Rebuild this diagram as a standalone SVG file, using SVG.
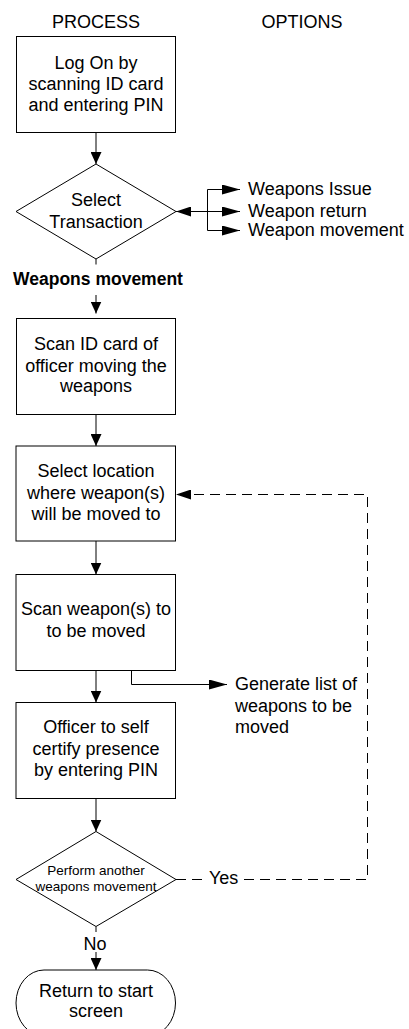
<svg xmlns="http://www.w3.org/2000/svg" width="409" height="1029" viewBox="0 0 409 1029">
  <style>
    .shape { fill: #ffffff; stroke: #000000; stroke-width: 1; }
    .line { fill: none; stroke: #000000; stroke-width: 1; }
    .dash { fill: none; stroke: #000000; stroke-width: 1; stroke-dasharray: 10 6; }
    text { font-family: "Liberation Sans", Arial, sans-serif; font-size: 18px; fill: #000000; }
    .c { text-anchor: middle; }
    .small { font-size: 13.5px; }
    .bold { font-weight: bold; font-size: 17.5px; }
  </style>
  <defs>
    <marker id="arrow" viewBox="0 0 12 11" markerWidth="12" markerHeight="11" refX="12" refY="5.5" orient="auto-start-reverse" markerUnits="userSpaceOnUse">
      <path d="M0,0 L12,5.5 L0,11 Z" fill="#000000"/>
    </marker>
    <marker id="arrowLong" viewBox="0 0 18 10" markerWidth="18" markerHeight="10" refX="18" refY="5" orient="auto-start-reverse" markerUnits="userSpaceOnUse">
      <path d="M0,0 L18,5 L0,10 Z" fill="#000000"/>
    </marker>
    <marker id="arrowMid" viewBox="0 0 15 10" markerWidth="15" markerHeight="10" refX="15" refY="5" orient="auto-start-reverse" markerUnits="userSpaceOnUse">
      <path d="M0,0 L15,5 L0,10 Z" fill="#000000"/>
    </marker>
  </defs>

  <rect width="409" height="1029" fill="#ffffff"/>

  <!-- column headings -->
  <g id="headings">
    <text class="c" x="96" y="28">PROCESS</text>
    <text class="c" x="302" y="28">OPTIONS</text>
  </g>

  <!-- connectors -->
  <g id="connectors">
    <path class="line" d="M96,132.5 V164" marker-end="url(#arrow)"/>
    <!-- transaction options bus -->
    <path class="line" d="M240,211.5 H176" marker-end="url(#arrowMid)"/>
    <path class="line" d="M207.5,211.5 H240" marker-end="url(#arrowLong)"/>
    <path class="line" d="M207.5,211.5 V189.5 H240" marker-end="url(#arrowLong)"/>
    <path class="line" d="M207.5,211.5 V230.5 H240" marker-end="url(#arrowLong)"/>
    <path class="line" d="M96,259 V264.5"/>
    <path class="line" d="M96,295 V313.5" marker-end="url(#arrow)"/>
    <path class="line" d="M96,414.5 V446" marker-end="url(#arrow)"/>
    <path class="line" d="M96,541 V574.5" marker-end="url(#arrow)"/>
    <path class="line" d="M96,670.5 V702.5" marker-end="url(#arrow)"/>
    <path class="line" d="M131.5,670.5 V684.5 H227" marker-end="url(#arrowLong)"/>
    <path class="line" d="M96,798.5 V831.5" marker-end="url(#arrow)"/>
    <!-- loop back on "Yes" -->
    <path class="dash" d="M176,879.5 H202"/>
    <path class="dash" d="M244,879.5 H367.5 V494.5 H176" marker-end="url(#arrowMid)"/>
    <path class="line" d="M96,926.5 V932"/>
    <path class="line" d="M96,952 V970" marker-end="url(#arrow)"/>
  </g>

  <!-- connector labels -->
  <g id="labels">
    <text class="bold c" x="98" y="285">Weapons movement</text>
    <text x="209" y="884">Yes</text>
    <text class="c" x="95" y="950">No</text>
  </g>

  <g id="logon">
    <rect class="shape" x="16.5" y="36.5" width="159" height="96"/>
    <text class="c" x="96" y="69">Log On by</text>
    <text class="c" x="96" y="90">scanning ID card</text>
    <text class="c" x="96" y="111">and entering PIN</text>
  </g>

  <g id="select-transaction">
    <polygon class="shape" points="96,164 176,211.5 96,259 16,211.5"/>
    <text class="c" x="96" y="206">Select</text>
    <text class="c" x="96" y="228">Transaction</text>
  </g>

  <g id="options">
    <text x="248" y="195">Weapons Issue</text>
    <text x="248" y="217">Weapon return</text>
    <text x="248" y="236">Weapon movement</text>
  </g>

  <g id="scan-officer">
    <rect class="shape" x="16.5" y="318.5" width="159" height="96"/>
    <text class="c" x="96" y="350">Scan ID card of</text>
    <text class="c" x="96" y="371.5">officer moving the</text>
    <text class="c" x="96" y="392">weapons</text>
  </g>

  <g id="select-location">
    <rect class="shape" x="16" y="446" width="159.5" height="95"/>
    <text class="c" x="96" y="477">Select location</text>
    <text class="c" x="96" y="498.5">where weapon(s)</text>
    <text class="c" x="96" y="520">will be moved to</text>
  </g>

  <g id="scan-weapons">
    <rect class="shape" x="16" y="574.5" width="159.5" height="96"/>
    <text class="c" x="96" y="615">Scan weapon(s) to</text>
    <text class="c" x="96" y="636.5">to be moved</text>
  </g>

  <g id="generate-list">
    <text x="235" y="690">Generate list of</text>
    <text x="235" y="711.5">weapons to be</text>
    <text x="235" y="733">moved</text>
  </g>

  <g id="self-certify">
    <rect class="shape" x="16" y="702.5" width="159.5" height="96"/>
    <text class="c" x="96" y="733">Officer to self</text>
    <text class="c" x="96" y="755">certify presence</text>
    <text class="c" x="96" y="776">by entering PIN</text>
  </g>

  <g id="another-movement">
    <polygon class="shape" points="96,831.5 176,879.5 96,926.5 16,879.5"/>
    <text class="c small" x="96" y="874.5">Perform another</text>
    <text class="c small" x="96" y="890.5">weapons movement</text>
  </g>

  <g id="return-start">
    <rect class="shape" x="16" y="970" width="159.5" height="66" rx="28" ry="33"/>
    <text class="c" x="96" y="997">Return to start</text>
    <text class="c" x="96" y="1017">screen</text>
  </g>
</svg>
